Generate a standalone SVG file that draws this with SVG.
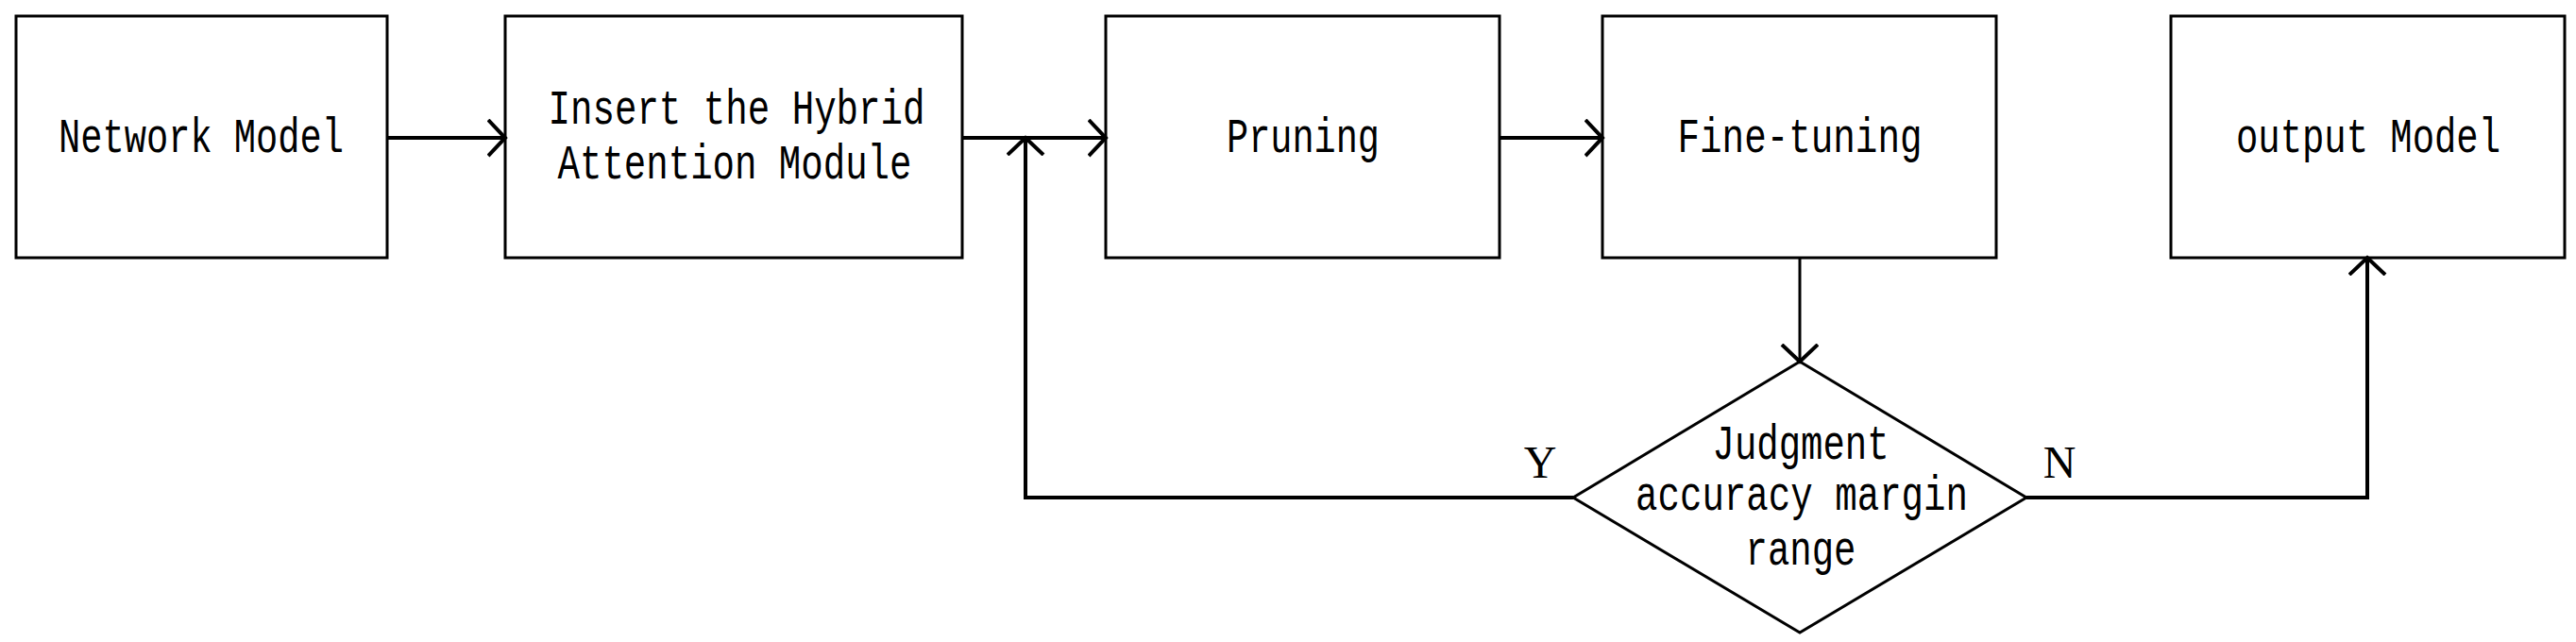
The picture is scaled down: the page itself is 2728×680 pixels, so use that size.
<svg xmlns="http://www.w3.org/2000/svg" width="2728" height="680" viewBox="0 0 2728 680">
<style>
.n{fill:#fff;stroke:#000;stroke-width:3}
.t{font-family:"Liberation Mono",monospace;font-size:52px;text-anchor:middle;fill:#000}
.s{font-family:"Liberation Serif",serif;font-size:48px;text-anchor:middle;fill:#000}
.c{fill:none;stroke:#000;stroke-width:4}
</style>
<defs>
<marker id="a" markerUnits="userSpaceOnUse" markerWidth="30" markerHeight="44" refX="19" refY="20" orient="auto" viewBox="0 0 30 44">
<path d="M1,1 L19,20 L1,39" fill="none" stroke="#000" stroke-width="4"/>
</marker>
</defs>
<rect width="2728" height="680" fill="#fff"/>
<g id="n1"><rect class="n" x="17" y="17" width="393" height="256"/><text class="t" x="213" y="161" textLength="302" lengthAdjust="spacingAndGlyphs">Network Model</text></g>
<g id="n2"><rect class="n" x="535" y="17" width="484" height="256"/><text class="t" x="780" y="131" textLength="399" lengthAdjust="spacingAndGlyphs">Insert the Hybrid</text><text class="t" x="778" y="189" textLength="375" lengthAdjust="spacingAndGlyphs">Attention Module</text></g>
<g id="n3"><rect class="n" x="1171" y="17" width="417" height="256"/><text class="t" x="1380" y="161" textLength="162" lengthAdjust="spacingAndGlyphs">Pruning</text></g>
<g id="n4"><rect class="n" x="1697" y="17" width="417" height="256"/><text class="t" x="1906" y="161" textLength="259" lengthAdjust="spacingAndGlyphs">Fine-tuning</text></g>
<g id="n5"><rect class="n" x="2299" y="17" width="417" height="256"/><text class="t" x="2508" y="161" textLength="280" lengthAdjust="spacingAndGlyphs">output Model</text></g>
<g id="n6"><polygon class="n" points="1906,383 2146,527 1906,670 1666,527"/><text class="t" x="1907" y="486" textLength="187" lengthAdjust="spacingAndGlyphs">Judgment</text><text class="t" x="1908" y="540" textLength="352" lengthAdjust="spacingAndGlyphs">accuracy margin</text><text class="t" x="1907" y="598" textLength="117" lengthAdjust="spacingAndGlyphs">range</text></g>
<g id="connectors">
<line class="c" x1="410" y1="146" x2="535" y2="146" marker-end="url(#a)"/>
<line class="c" x1="1019" y1="146" x2="1171" y2="146" marker-end="url(#a)"/>
<line class="c" x1="1588" y1="146" x2="1697" y2="146" marker-end="url(#a)"/>
<line class="c" style="stroke-width:3" x1="1906" y1="273" x2="1906" y2="383" marker-end="url(#a)"/>
<polyline class="c" points="1666,527 1086,527 1086,146" marker-end="url(#a)"/>
<polyline class="c" points="2146,527 2507,527 2507,273" marker-end="url(#a)"/>
<text class="s" x="1631" y="506">Y</text>
<text class="s" x="2181" y="506">N</text>
</g>
</svg>
